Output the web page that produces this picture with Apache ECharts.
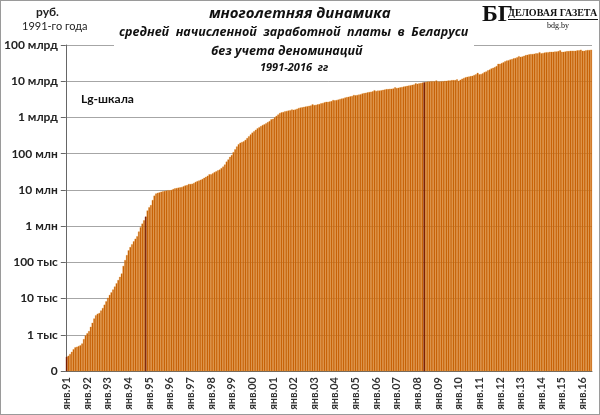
<!DOCTYPE html>
<html><head><meta charset="utf-8">
<script src="https://cdn.jsdelivr.net/npm/echarts@6/dist/echarts.min.js"></script>
<style>
html,body{margin:0;padding:0;background:#fff;}
#c{width:600px;height:415px;box-sizing:border-box;border:1px solid #9a9a9a;}
</style></head>
<body><div id="c"></div>
<script>
// Monthly average nominal wage in Belarus, rubles, without denominations (Jan..Dec)
const w1991 = [245, 263, 295, 339, 398, 447, 468, 490, 513, 575, 759, 955];
const w1992 = [1.10e3, 1.26e3, 1.66e3, 2.14e3, 2.82e3, 3.47e3, 3.80e3, 3.98e3, 4.68e3, 5.50e3, 6.76e3, 8.32e3];
const w1993 = [1.05e4, 1.26e4, 1.48e4, 1.78e4, 2.14e4, 2.63e4, 3.24e4, 3.98e4, 4.90e4, 7.94e4, 1.15e5, 1.58e5];
const w1994 = [2.14e5, 2.63e5, 3.16e5, 3.80e5, 4.47e5, 5.25e5, 7.08e5, 9.33e5, 1.17e6, 1.45e6, 1.82e6, 2.69e6];
const w1995 = [3.31e6, 3.80e6, 5.25e6, 6.92e6, 7.94e6, 8.32e6, 8.51e6, 8.91e6, 9.12e6, 9.33e6, 9.55e6, 9.77e6];
const w1996 = [9.77e6, 1.00e7, 1.05e7, 1.10e7, 1.12e7, 1.15e7, 1.17e7, 1.20e7, 1.26e7, 1.32e7, 1.35e7, 1.45e7];
const w1997 = [1.45e7, 1.48e7, 1.55e7, 1.66e7, 1.74e7, 1.82e7, 1.91e7, 2.00e7, 2.14e7, 2.29e7, 2.45e7, 2.69e7];
const w1998 = [2.69e7, 2.88e7, 3.09e7, 3.24e7, 3.47e7, 3.63e7, 3.98e7, 4.37e7, 5.01e7, 6.03e7, 6.92e7, 8.13e7];
const w1999 = [9.12e7, 1.10e8, 1.32e8, 1.58e8, 1.82e8, 2.00e8, 2.09e8, 2.19e8, 2.40e8, 2.69e8, 3.02e8, 3.39e8];
const w2000 = [3.80e8, 4.17e8, 4.57e8, 5.01e8, 5.37e8, 5.75e8, 6.17e8, 6.46e8, 6.92e8, 7.41e8, 7.94e8, 8.91e8];
const w2001 = [9.12e8, 1.00e9, 1.10e9, 1.20e9, 1.32e9, 1.38e9, 1.41e9, 1.48e9, 1.51e9, 1.55e9, 1.58e9, 1.66e9];
const w2002 = [1.62e9, 1.66e9, 1.74e9, 1.82e9, 1.86e9, 1.91e9, 1.95e9, 2.00e9, 2.04e9, 2.09e9, 2.14e9, 2.29e9];
const w2003 = [2.19e9, 2.24e9, 2.29e9, 2.34e9, 2.45e9, 2.51e9, 2.63e9, 2.69e9, 2.69e9, 2.75e9, 2.82e9, 3.02e9];
const w2004 = [2.95e9, 3.02e9, 3.09e9, 3.24e9, 3.31e9, 3.39e9, 3.55e9, 3.63e9, 3.72e9, 3.80e9, 3.89e9, 4.17e9];
const w2005 = [4.07e9, 4.17e9, 4.27e9, 4.37e9, 4.57e9, 4.68e9, 4.79e9, 4.90e9, 5.01e9, 5.13e9, 5.25e9, 5.62e9];
const w2006 = [5.37e9, 5.50e9, 5.50e9, 5.62e9, 5.75e9, 5.89e9, 6.03e9, 6.03e9, 6.17e9, 6.17e9, 6.31e9, 6.76e9];
const w2007 = [6.46e9, 6.61e9, 6.76e9, 6.92e9, 7.08e9, 7.24e9, 7.41e9, 7.59e9, 7.76e9, 7.94e9, 8.13e9, 8.71e9];
const w2008 = [8.51e9, 8.71e9, 8.91e9, 9.12e9, 9.33e9, 9.55e9, 9.77e9, 9.77e9, 1.00e10, 1.00e10, 1.00e10, 1.05e10];
const w2009 = [9.77e9, 9.77e9, 1.00e10, 1.00e10, 1.02e10, 1.02e10, 1.05e10, 1.05e10, 1.07e10, 1.07e10, 1.07e10, 1.12e10];
const w2010 = [1.02e10, 1.10e10, 1.17e10, 1.23e10, 1.29e10, 1.32e10, 1.35e10, 1.38e10, 1.41e10, 1.48e10, 1.55e10, 1.70e10];
const w2011 = [1.55e10, 1.58e10, 1.66e10, 1.78e10, 1.86e10, 2.00e10, 2.09e10, 2.24e10, 2.34e10, 2.45e10, 2.63e10, 3.02e10];
const w2012 = [3.02e10, 3.16e10, 3.31e10, 3.55e10, 3.72e10, 3.80e10, 3.98e10, 4.07e10, 4.27e10, 4.37e10, 4.57e10, 4.90e10];
const w2013 = [4.68e10, 4.79e10, 5.01e10, 5.25e10, 5.37e10, 5.50e10, 5.62e10, 5.62e10, 5.75e10, 5.89e10, 5.89e10, 6.31e10];
const w2014 = [5.89e10, 6.03e10, 6.17e10, 6.31e10, 6.31e10, 6.46e10, 6.46e10, 6.46e10, 6.61e10, 6.61e10, 6.76e10, 7.08e10];
const w2015 = [6.46e10, 6.46e10, 6.61e10, 6.76e10, 6.76e10, 6.92e10, 6.92e10, 6.92e10, 6.92e10, 7.08e10, 7.08e10, 7.41e10];
const w2016 = [6.92e10, 6.92e10, 7.08e10, 7.24e10, 7.24e10, 7.41e10];

const years = [1991,1992,1993,1994,1995,1996,1997,1998,1999,2000,2001,2002,2003,2004,2005,2006,2007,2008,2009,2010,2011,2012,2013,2014,2015,2016];
const yearData = [w1991,w1992,w1993,w1994,w1995,w1996,w1997,w1998,w1999,w2000,w2001,w2002,w2003,w2004,w2005,w2006,w2007,w2008,w2009,w2010,w2011,w2012,w2013,w2014,w2015,w2016];
const monthNames = ['янв','фев','мар','апр','май','июн','июл','авг','сен','окт','ноя','дек'];
const yTickLabels = ['0','1 тыс','10 тыс','100 тыс','1 млн','10 млн','100 млн','1 млрд','10 млрд','100 млрд'];
const darkBars = [0, 46, 208];

const categories = [];
const values = [];
yearData.forEach((arr, k) => {
  const yy = String(years[k]).slice(2);
  arr.forEach((v, m) => {
    categories.push(monthNames[m] + '.' + yy);
    values.push(v);
  });
});
const seriesData = values.map((v, i) => darkBars.indexOf(i) >= 0
  ? {value: v, itemStyle: {color: '#7a1e00', borderColor: '#7a1e00'}}
  : v);

const chart = echarts.init(document.getElementById('c'), null, {renderer: 'canvas'});
const titleFont = "'Open Sans','Noto Sans',sans-serif";
const labelFont = "'Lato','Liberation Sans',sans-serif";
chart.setOption({
  animation: false,
  backgroundColor: '#fff',
  grid: {left: 63, right: 7, top: 44, bottom: 43, containLabel: false},
  xAxis: {
    type: 'category',
    data: categories,
    axisLine: {show: true, lineStyle: {color: '#666', width: 1}},
    axisTick: {show: false},
    axisLabel: {
      interval: (idx) => idx % 12 === 0,
      rotate: 90,
      fontSize: 11,
      fontWeight: 'bold',
      color: '#333',
      fontFamily: labelFont,
      margin: 6
    }
  },
  yAxis: {
    type: 'log',
    logBase: 10,
    min: 100,
    max: 1e11,
    axisLine: {show: true, lineStyle: {color: '#666', width: 1}},
    axisTick: {show: true, length: 5, lineStyle: {color: '#666'}},
    splitLine: {show: true, lineStyle: {color: '#a6a6a6', width: 1}},
    axisLabel: {
      formatter: (v) => yTickLabels[Math.round(Math.log10(v)) - 2] || '',
      fontSize: 12,
      fontWeight: 'bold',
      color: '#222',
      fontFamily: labelFont,
      margin: 8
    }
  },
  series: [{
    type: 'bar',
    data: seriesData,
    barCategoryGap: '0%',
    clip: true,
    itemStyle: {color: '#c05800', borderColor: '#e6902c', borderWidth: 0.35}
  }],
  graphic: [
    {type: 'rect', z: 50, shape: {x: 113, y: 38, width: 360, height: 12}, style: {fill: '#fff'}},
    {type: 'text', z: 60, left: 208, top: 5, style: {text: 'многолетняя динамика', font: "italic bold 15px " + titleFont, fill: '#111'}},
    {type: 'text', z: 60, left: 118, top: 25, style: {text: 'средней  начисленной  заработной  платы  в  Беларуси', font: "italic bold 12.5px " + titleFont, fill: '#111'}},
    {type: 'text', z: 60, left: 210, top: 44, style: {text: 'без учета деноминаций', font: "italic bold 12.5px " + titleFont, fill: '#111'}},
    {type: 'text', z: 60, left: 259, top: 61, style: {text: '1991-2016  гг', font: "italic bold 11px " + titleFont, fill: '#111'}},
    {type: 'text', z: 60, left: 35, top: 5, style: {text: 'руб.', font: "bold 12px " + labelFont, fill: '#222'}},
    {type: 'text', z: 60, left: 21, top: 20, style: {text: '1991-го года', font: "11px " + labelFont, fill: '#222'}},
    {type: 'text', z: 60, left: 80, top: 92, style: {text: 'Lg-шкала', font: "bold 12px " + labelFont, fill: '#111'}},
    {type: 'text', z: 60, left: 481, top: 2, style: {text: 'БГ', font: "bold 24px 'Liberation Serif','DejaVu Serif',serif", fill: '#111'}},
    {type: 'text', z: 60, left: 507, top: 7, style: {text: 'ДЕЛОВАЯ ГАЗЕТА', font: "bold 10px 'Liberation Serif','DejaVu Serif',serif", fill: '#111'}},
    {type: 'line', z: 60, shape: {x1: 507, y1: 18.5, x2: 597, y2: 18.5}, style: {stroke: '#111', lineWidth: 1}},
    {type: 'text', z: 60, left: 546, top: 21, style: {text: 'bdg.by', font: "8px 'Liberation Serif','DejaVu Serif',serif", fill: '#111'}}
  ]
});
</script>
</body></html>
